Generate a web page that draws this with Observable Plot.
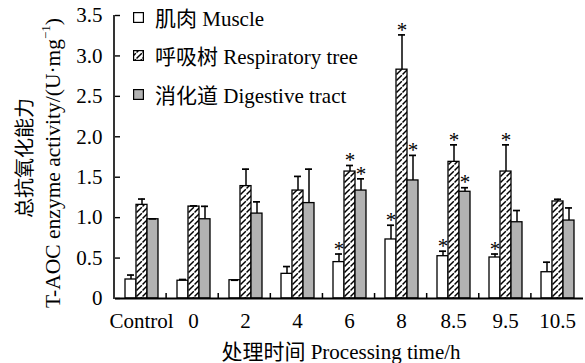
<!DOCTYPE html>
<html><head><meta charset="utf-8">
<script src="https://cdn.jsdelivr.net/npm/d3@7"></script>
<script src="https://cdn.jsdelivr.net/npm/@observablehq/plot@0.6"></script>
<style>
body{margin:0;background:#fff;}
#wrap{position:relative;width:585px;height:363px;font-family:"Liberation Serif","Noto Sans CJK SC",serif;}
.lg{position:absolute;left:133px;height:24px;display:flex;align-items:center;font-size:21px;white-space:nowrap;color:#000;}
.lg svg{margin-right:11px;}
</style></head><body>
<svg width="0" height="0" style="position:absolute">
<defs><pattern id="hatch" patternUnits="userSpaceOnUse" width="6" height="6">
<rect width="6" height="6" fill="white"/>
<path d="M-1.5,1.5 L1.5,-1.5 M0,6 L6,0 M4.5,7.5 L7.5,4.5" stroke="black" stroke-width="1.5" stroke-dasharray="4,1"/>
</pattern></defs></svg>
<div id="wrap"></div>
<script>
const categories = ["Control","0","2","4","6","8","8.5","9.5","10.5"];
const series = ["肌肉 Muscle","呼吸树 Respiratory tree","消化道 Digestive tract"];
const muscle    = [0.235,0.22,0.226,0.305,0.45,0.73,0.523,0.507,0.325];
const muscleErr = [0.29,0.235,0.226,0.395,0.55,0.906,0.585,0.55,0.449];
const resp      = [1.158,1.137,1.39,1.335,1.57,2.83,1.69,1.57,1.2];
const respErr   = [1.23,1.145,1.6,1.51,1.645,3.26,1.90,1.90,1.227];
const dig       = [0.98,0.98,1.05,1.18,1.335,1.46,1.32,0.943,0.964];
const digErr    = [0.985,1.14,1.195,1.6,1.48,1.77,1.37,1.088,1.12];
const muscleSig = [false,false,false,false,true,true,true,true,false];
const respSig   = [false,false,false,false,true,true,true,true,false];
const digSig    = [false,false,false,false,true,true,true,false,false];
const yTicks = [0,0.5,1.0,1.5,2.0,2.5,3.0,3.5];

const rows = [];
categories.forEach((c,i) => {
  rows.push({cat:c, series:series[0], value:muscle[i], err:muscleErr[i], sig:muscleSig[i]});
  rows.push({cat:c, series:series[1], value:resp[i], err:respErr[i], sig:respSig[i]});
  rows.push({cat:c, series:series[2], value:dig[i], err:digErr[i], sig:digSig[i]});
});

const font = "'Liberation Serif','Noto Sans CJK SC',serif";
const chart = Plot.plot({
  width: 585, height: 363,
  marginLeft: 114, marginRight: 2, marginTop: 15, marginBottom: 65,
  style: {fontFamily: font, fontSize: "21px", color: "black", background: "white", overflow: "visible"},
  fx: {domain: categories, padding: 0, label: null},
  x: {domain: series, paddingInner: 0, paddingOuter: 0.75, axis: null},
  y: {domain: [0, 3.5], label: null},
  color: {type: "ordinal", domain: series, range: ["white", "url(#hatch)", "#b2b2b2"]},
  marks: [
    Plot.barY(rows, {fx: "cat", x: "series", y: "value", fill: "series", stroke: "black", strokeWidth: 1.3}),
    Plot.ruleX(rows, {fx: "cat", x: "series", y1: "value", y2: "err", strokeWidth: 1.5}),
    Plot.tickY(rows, {fx: "cat", x: "series", y: "err", strokeWidth: 1.7, inset: 2}),
    Plot.text(rows.filter(d => d.sig), {fx: "cat", x: "series", y: "err", text: () => "*", fontSize: 21, dy: -5, fill: "black"}),
    Plot.ruleY([0], {strokeWidth: 2}),
    Plot.axisY(yTicks, {tickSize: 0, tickPadding: 13, fontSize: 21, label: null,
      tickFormat: d => d === 0 ? "0" : d.toFixed(1)}),
    Plot.axisY(yTicks, {tickSize: -5, text: null, label: null, strokeWidth: 1.4}),
    Plot.axisFx({anchor: "bottom", tickSize: 0, tickPadding: 15, fontSize: 21, label: null})
  ]
});

const wrap = document.getElementById("wrap");
wrap.appendChild(chart);

// axis line and group boundary ticks from the plot's own scales
const svg = d3.select(chart);
const fxS = chart.scale("fx"), yS = chart.scale("y");
const [r0, r1] = fxS.range;
const step = (r1 - r0) / fxS.domain.length;
const yb = Math.max(...yS.range), yt = Math.min(...yS.range);
svg.append("line").attr("x1", r0).attr("x2", r0).attr("y1", yt).attr("y2", yb + 1)
  .attr("stroke", "black").attr("stroke-width", 1.6);
for (let i = 1; i < fxS.domain.length; i++) {
  const x = r0 + step * i;
  svg.append("line").attr("x1", x).attr("x2", x).attr("y1", yb - 5).attr("y2", yb)
    .attr("stroke", "black").attr("stroke-width", 1.5);
}

// axis titles
svg.append("text").attr("transform", "translate(23,158) rotate(-90)")
  .attr("text-anchor", "middle").attr("font-family", "'Noto Sans CJK SC',sans-serif")
  .attr("font-weight", 400).attr("font-size", 20).attr("dominant-baseline", "central").text("总抗氧化能力");
const t2 = svg.append("text").attr("transform", "translate(53,163) rotate(-90)")
  .attr("text-anchor", "middle").attr("font-family", font).attr("font-size", 21.5)
  .attr("dominant-baseline", "central");
t2.append("tspan").text("T-AOC enzyme activity/(U·mg");
t2.append("tspan").attr("font-size", 13).attr("dy", -8).text("−1");
t2.append("tspan").attr("dy", 8).text(")");
svg.append("text").attr("x", 341).attr("y", 359).attr("text-anchor", "middle")
  .attr("font-family", font).attr("font-size", 21).text("处理时间 Processing time/h");

// legend
const fills = ["white", "url(#hatch)", "#b2b2b2"];
const legendCenters = [17, 55, 94];
series.forEach((s, i) => {
  const div = document.createElement("div");
  div.className = "lg";
  div.style.top = (legendCenters[i] - 12) + "px";
  div.innerHTML = `<svg width="11" height="11"><rect x="0.6" y="0.6" width="9.8" height="9.8" fill="${fills[i]}" stroke="black" stroke-width="1.2"/></svg><span>${s}</span>`;
  wrap.appendChild(div);
});
</script>
</body></html>
